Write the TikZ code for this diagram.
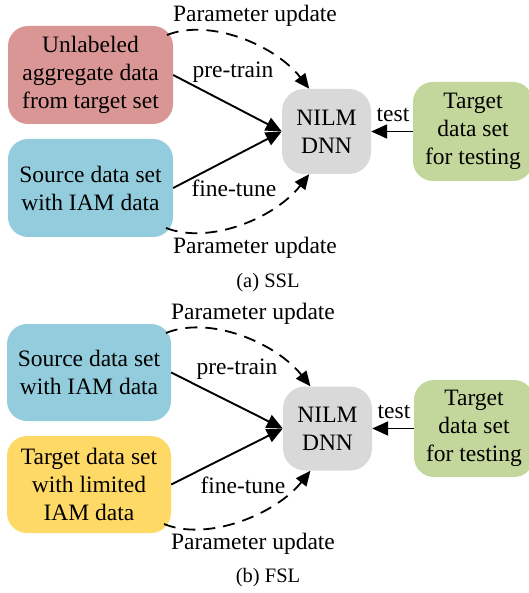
\documentclass[tikz,border=0pt]{standalone}
\usepackage{fontspec}
\setmainfont{Liberation Serif}
\usetikzlibrary{arrows.meta}
\definecolor{cred}{HTML}{D99694}
\definecolor{cblue}{HTML}{93CDDD}
\definecolor{cgray}{HTML}{D9D9D9}
\definecolor{cgreen}{HTML}{C3D69B}
\definecolor{cyellow}{HTML}{FFD966}
\begin{document}
\begin{tikzpicture}[x=1pt,y=1pt,
  box/.style={rectangle, rounded corners=20pt, draw=none, inner sep=0pt,
    align=center, font=\fontsize{23.5}{28}\selectfont},
  lbl/.style={font=\fontsize{23.5}{28}\selectfont, inner sep=0pt},
  captxt/.style={font=\fontsize{20.5}{24}\selectfont, inner sep=0pt},
  solidarrow/.style={line width=1.9pt, -{Triangle[length=16pt,width=14pt]}},
  dasharrow/.style={line width=1.8pt, dash pattern=on 12pt off 8pt,
    -{Triangle[length=15pt,width=13pt]}}]
\useasboundingbox (0,0) rectangle (528,-593);
% ---------- (a) SSL ----------
\node[box, fill=cred, minimum width=165pt, minimum height=98pt] (ra) at (90.5,-75)
  {Unlabeled\\aggregate data\\from target set};
\node[box, fill=cblue, minimum width=165pt, minimum height=98pt] (ba) at (90.5,-188)
  {Source data set\\with IAM data};
\node[box, fill=cgray, rounded corners=22pt, minimum width=89pt, minimum height=85pt] (na) at (326.5,-131.5)
  {NILM\\DNN};
\node[box, fill=cgreen, minimum width=120pt, minimum height=99pt] (ga) at (473,-131.5)
  {Target\\data set\\for testing};
\coordinate (sa1) at (167,-35);
\coordinate (sa2) at (166,-228);
\draw[solidarrow] (ra.east) -- (na.west);
\draw[solidarrow] (ba.east) -- (na.west);
\draw[solidarrow] (ga.west) -- (na.east);
\draw[dasharrow] (sa1) .. controls (210,-18) and (275,-45) .. (na.112);
\draw[dasharrow] (sa2) .. controls (210,-245) and (275,-218) .. (na.248);
\node[lbl] (pua1) at (255,-16) {Parameter update};
\node[lbl] (pua2) at (255,-248) {Parameter update};
\node[lbl] (pta) at (233,-72) {pre-train};
\node[lbl] (fta) at (234,-188) {fine-tune};
\node[lbl] (tsa) at (393,-115) {test};
\node[captxt] (capa) at (268,-283) {(a) SSL};
% ---------- (b) FSL ----------
\node[box, fill=cblue, minimum width=164pt, minimum height=97pt] (bb) at (89,-372.5)
  {Source data set\\with IAM data};
\node[box, fill=cyellow, minimum width=164pt, minimum height=97pt] (yb) at (89,-484.5)
  {Target data set\\with limited\\IAM data};
\node[box, fill=cgray, rounded corners=22pt, minimum width=89pt, minimum height=84pt] (nb) at (327.5,-428.5)
  {NILM\\DNN};
\node[box, fill=cgreen, minimum width=120pt, minimum height=97pt] (gb) at (474,-428.5)
  {Target\\data set\\for testing};
\coordinate (sb1) at (166,-333);
\coordinate (sb2) at (164,-524);
\draw[solidarrow] (bb.east) -- (nb.west);
\draw[solidarrow] (yb.east) -- (nb.west);
\draw[solidarrow] (gb.west) -- (nb.east);
\draw[dasharrow] (sb1) .. controls (210,-315) and (276,-343) .. (nb.112);
\draw[dasharrow] (sb2) .. controls (208,-542) and (276,-514) .. (nb.248);
\node[lbl] (pub1) at (253,-314) {Parameter update};
\node[lbl] (pub2) at (253,-544) {Parameter update};
\node[lbl] (ptb) at (237,-369) {pre-train};
\node[lbl] (ftb) at (243,-485) {fine-tune};
\node[lbl] (tsb) at (394,-412) {test};
\node[captxt] (capb) at (268,-578) {(b) FSL};
\end{tikzpicture}
\end{document}
